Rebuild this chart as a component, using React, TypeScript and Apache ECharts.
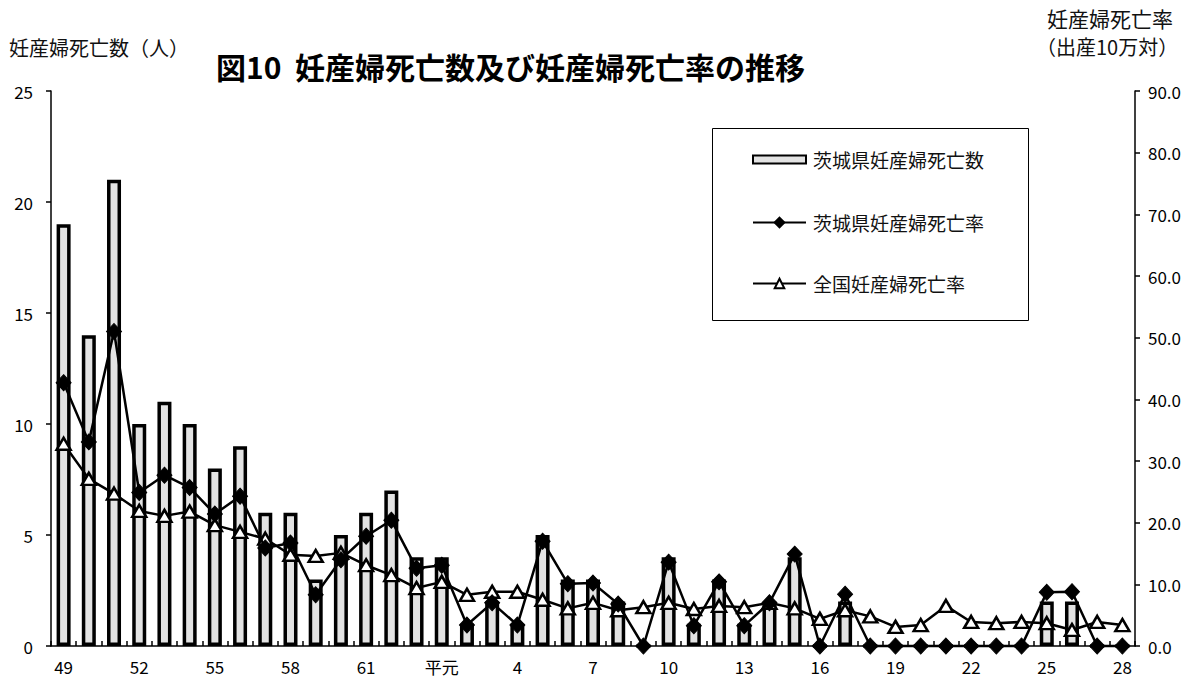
import React, { useEffect, useRef } from "react";
import * as echarts from "echarts";

// 年次（昭和49年〜平成28年）
const years: string[] = [
  "49", "50", "51", "52", "53", "54", "55", "56", "57", "58", "59", "60", "61", "62", "63",
  "平元", "2", "3", "4", "5", "6", "7", "8", "9", "10", "11", "12", "13", "14", "15",
  "16", "17", "18", "19", "20", "21", "22", "23", "24", "25", "26", "27", "28",
];

// 茨城県妊産婦死亡数（人）
const ibarakiDeaths: number[] = [
  19, 14, 21, 10, 11, 10, 8, 9, 6, 6, 3, 5, 6, 7, 4,
  4, 1, 2, 1, 5, 3, 3, 2, 0, 4, 1, 3, 1, 2, 4,
  0, 2, 0, 0, 0, 0, 0, 0, 0, 2, 2, 0, 0,
];

// 茨城県妊産婦死亡率（出産10万対）
const ibarakiRate: number[] = [
  42.7, 33.1, 51.0, 24.9, 27.7, 25.7, 21.4, 24.3, 15.9, 16.7, 8.3, 14.0, 17.8, 20.4, 12.6,
  13.1, 3.4, 7.0, 3.4, 17.0, 10.1, 10.2, 6.8, 0, 13.6, 3.3, 10.4, 3.3, 7.0, 14.9,
  0, 8.4, 0, 0, 0, 0, 0, 0, 0, 8.7, 8.8, 0, 0,
];

// 全国妊産婦死亡率（出産10万対）
const nationalRate: number[] = [
  32.8, 27.1, 24.7, 21.9, 21.1, 21.8, 19.6, 18.5, 17.4, 14.8, 14.6, 15.1, 13.1, 11.5, 9.4,
  10.4, 8.3, 8.8, 8.8, 7.5, 6.1, 7.0, 5.8, 6.3, 7.0, 6.0, 6.5, 6.3, 7.0, 6.1,
  4.4, 5.8, 4.8, 3.1, 3.4, 6.5, 3.9, 3.7, 3.9, 3.7, 2.6, 3.9, 3.4,
];

const countTicks = { min: 0, max: 25, interval: 5 };
const rateTicks = { min: 0, max: 90, interval: 10 };

const FONT = "'Noto Sans CJK JP', 'Noto Sans', sans-serif";
const legendText = { fontFamily: FONT, fontSize: 19, color: "#111", padding: [0, 0, 0, 2] };

export default function App() {
  const ref = useRef<HTMLDivElement>(null);

  useEffect(() => {
    if (!ref.current) return;
    const chart = echarts.init(ref.current, null, { renderer: "svg" });

    chart.setOption({
      animation: false,
      backgroundColor: "#ffffff",
      textStyle: { fontFamily: FONT, color: "#000" },
      title: [
        {
          text: "図10  妊産婦死亡数及び妊産婦死亡率の推移",
          left: 216,
          top: 51,
          padding: 0,
          textStyle: { fontFamily: FONT, fontSize: 30, fontWeight: "bold", color: "#000" },
        },
        {
          text: "妊産婦死亡数（人）",
          left: 9,
          top: 37,
          padding: 0,
          textStyle: { fontFamily: FONT, fontSize: 20, fontWeight: "normal", color: "#111" },
        },
        {
          text: "妊産婦死亡率",
          left: 1047,
          top: 7,
          padding: 0,
          textStyle: { fontFamily: FONT, fontSize: 21, fontWeight: "normal", color: "#111", letterSpacing: 0.5 },
        },
        {
          text: "（出産10万対）",
          left: 1036,
          top: 36,
          padding: 0,
          textStyle: { fontFamily: FONT, fontSize: 20, fontWeight: "normal", color: "#111" },
        },
      ],
      // legend frame
      graphic: [
        {
          type: "rect",
          shape: { x: 712.5, y: 128.5, width: 316, height: 192 },
          style: { fill: "#fff", stroke: "#000", lineWidth: 1 },
          z: 0,
        },
      ],
      legend: [
        {
          left: 752,
          top: 150,
          padding: 0,
          itemWidth: 53,
          itemHeight: 8,
          textStyle: legendText,
          data: [{ name: "茨城県妊産婦死亡数", icon: "rect" }],
        },
        {
          orient: "vertical",
          left: 752,
          top: 213,
          padding: 0,
          itemGap: 42,
          itemWidth: 53,
          itemHeight: 12,
          textStyle: legendText,
          data: [{ name: "茨城県妊産婦死亡率" }, { name: "全国妊産婦死亡率" }],
        },
      ],
      grid: { left: 51, right: 57, top: 91, bottom: 36, containLabel: false },
      xAxis: {
        type: "category",
        data: years,
        boundaryGap: true,
        axisLine: { lineStyle: { color: "#000", width: 1.5 } },
        axisTick: { show: true, inside: true, length: 5, interval: 0, lineStyle: { color: "#000", width: 1.5 } },
        axisLabel: { interval: 2, margin: 12, fontSize: 17, color: "#000", fontFamily: FONT },
        splitLine: { show: false },
      },
      yAxis: [
        {
          type: "value",
          ...countTicks,
          position: "left",
          axisLine: { show: true, lineStyle: { color: "#000", width: 1.5 } },
          axisTick: { show: true, inside: false, length: 5, lineStyle: { color: "#000", width: 1.5 } },
          axisLabel: { margin: 18, fontSize: 17, color: "#000", fontFamily: FONT },
          splitLine: { show: false },
        },
        {
          type: "value",
          ...rateTicks,
          position: "right",
          axisLine: { show: true, lineStyle: { color: "#000", width: 1.5 } },
          axisTick: { show: true, inside: false, length: 5, lineStyle: { color: "#000", width: 1.5 } },
          axisLabel: {
            margin: 13,
            fontSize: 17,
            color: "#000",
            fontFamily: FONT,
            formatter: (v: number) => v.toFixed(1),
          },
          splitLine: { show: false },
        },
      ],
      series: [
        {
          name: "茨城県妊産婦死亡数",
          type: "bar",
          yAxisIndex: 0,
          data: ibarakiDeaths,
          barWidth: 14,
          itemStyle: { color: "#e3e3e3", borderColor: "#000", borderWidth: 3.5 },
          z: 2,
        },
        {
          name: "全国妊産婦死亡率",
          type: "line",
          yAxisIndex: 1,
          data: nationalRate,
          symbol: "triangle",
          symbolSize: [14, 12],
          showAllSymbol: true,
          lineStyle: { color: "#000", width: 2.5 },
          itemStyle: { color: "#fff", borderColor: "#000", borderWidth: 2.5 },
          z: 3,
        },
        {
          name: "茨城県妊産婦死亡率",
          type: "line",
          yAxisIndex: 1,
          data: ibarakiRate,
          symbol: "diamond",
          symbolSize: [15, 16],
          showAllSymbol: true,
          clip: false,
          lineStyle: { color: "#000", width: 2.5 },
          itemStyle: { color: "#000", borderColor: "#000", borderWidth: 1 },
          z: 4,
        },
      ],
    });

    return () => chart.dispose();
  }, []);

  return (
    <div
      ref={ref}
      style={{ position: "fixed", left: 0, top: 0, width: 1192, height: 682 }}
    />
  );
}
